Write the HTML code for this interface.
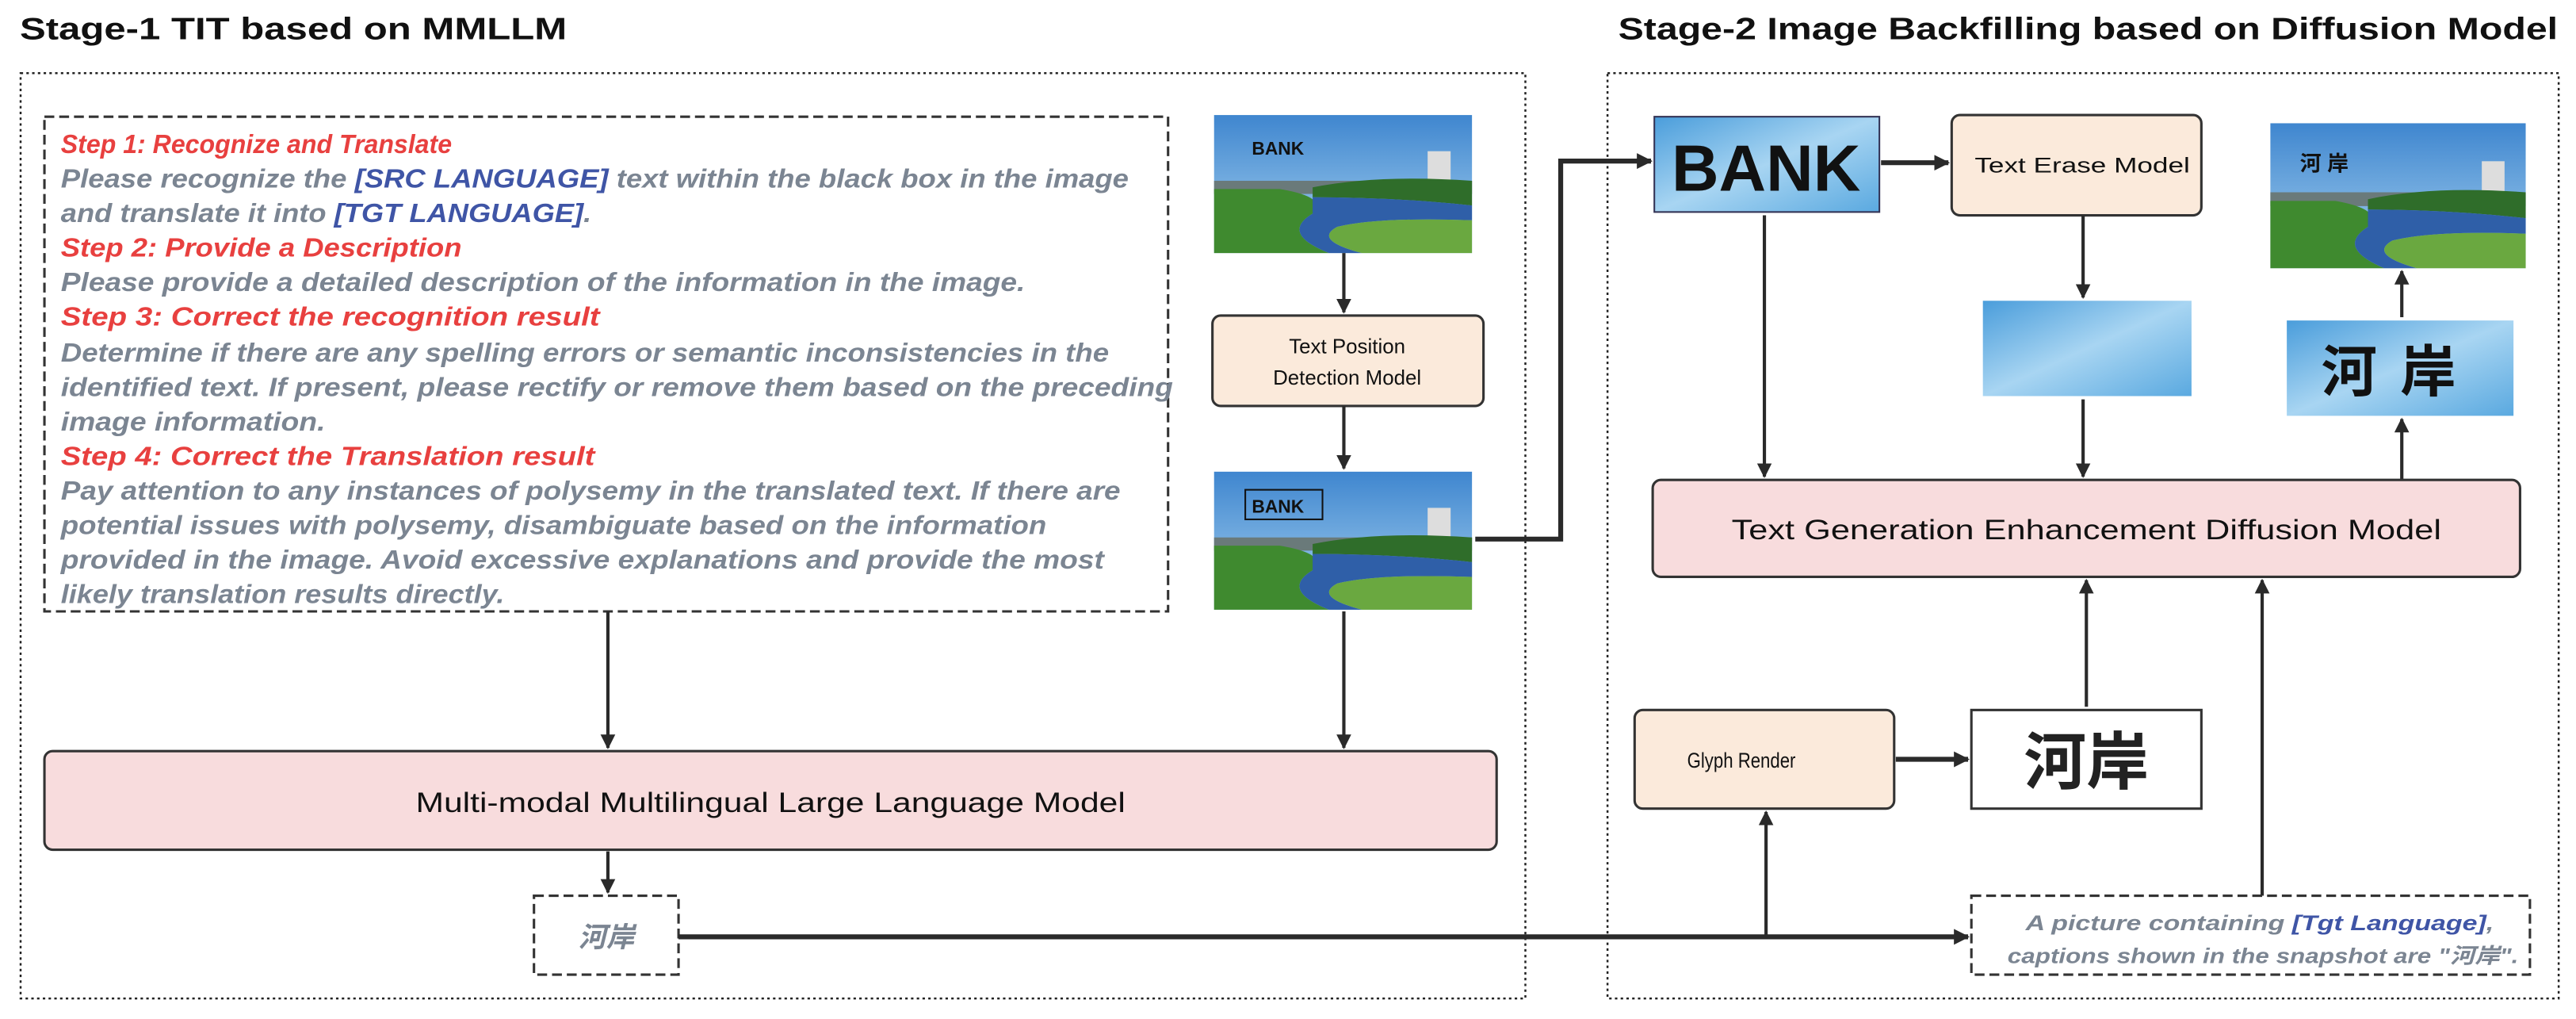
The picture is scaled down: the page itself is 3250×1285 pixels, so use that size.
<!DOCTYPE html>
<html><head><meta charset="utf-8"><style>html,body{margin:0;padding:0;background:#fff}svg{display:block}</style></head>
<body>
<svg width="3250" height="1285" viewBox="0 0 1568 620" xmlns="http://www.w3.org/2000/svg" font-family="'Liberation Sans','Noto Sans CJK SC',sans-serif">
<defs>
<marker id="ah" viewBox="0 0 10 10" refX="9" refY="5" markerWidth="4.5" markerHeight="4.5" orient="auto" markerUnits="strokeWidth"><path d="M0,0 L10,5 L0,10 z" fill="#2a2a2a"/></marker>
<marker id="ah2" viewBox="0 0 10 10" refX="9" refY="5" markerWidth="3.2" markerHeight="3.2" orient="auto" markerUnits="strokeWidth"><path d="M0,0 L10,5 L0,10 z" fill="#2a2a2a"/></marker>
<linearGradient id="sky" x1="0" y1="0" x2="0" y2="1"><stop offset="0" stop-color="#3f86cf"/><stop offset="1" stop-color="#a9d3f0"/></linearGradient>
<linearGradient id="cl" x1="0" y1="0" x2="1" y2="1"><stop offset="0" stop-color="#4a9ddb"/><stop offset="0.5" stop-color="#a8d5f2"/><stop offset="1" stop-color="#5aa9e0"/></linearGradient>
<g id="scene">
<rect width="157" height="84" fill="url(#sky)"/>
<rect x="130" y="22" width="14" height="22" fill="#ddd"/>
<rect x="0" y="40" width="157" height="8" fill="#6a7a7a"/>
<path d="M60,44 Q100,36 157,40 L157,55 Q110,50 60,50 z" fill="#2f6d2a"/>
<path d="M0,45 L40,45 Q70,50 60,60 Q40,72 70,84 L0,84 z" fill="#3f8a2f"/>
<path d="M60,50 Q110,50 157,55 L157,64 Q100,62 75,68 Q60,76 90,84 L70,84 Q40,72 60,60 z" fill="#2f5fa8"/>
<path d="M75,68 Q100,62 157,64 L157,84 L90,84 Q60,76 75,68 z" fill="#6aa840"/>
</g>
</defs>

<text x="12" y="24" font-size="19" font-weight="bold" fill="#111" textLength="333" lengthAdjust="spacingAndGlyphs">Stage-1 TIT based on MMLLM</text>
<text x="985" y="24" font-size="19" font-weight="bold" fill="#111" textLength="572" lengthAdjust="spacingAndGlyphs">Stage-2 Image Backfilling based on Diffusion Model</text>

<rect x="12.5" y="44.5" width="916" height="563" fill="none" stroke="#222" stroke-width="1.2" stroke-dasharray="1.5,2"/>
<rect x="978.5" y="44.5" width="579" height="563" fill="none" stroke="#222" stroke-width="1.2" stroke-dasharray="1.5,2"/>

<!-- prompt -->
<rect x="27" y="71" width="684" height="301" fill="none" stroke="#333" stroke-width="1.5" stroke-dasharray="6,3"/>
<g font-size="16" font-style="italic" font-weight="bold" fill="#7b8592" lengthAdjust="spacingAndGlyphs">
<text x="37" y="93" fill="#e8403f" textLength="238" lengthAdjust="spacingAndGlyphs">Step 1: Recognize and Translate</text>
<text x="37" y="114" textLength="650" lengthAdjust="spacingAndGlyphs">Please recognize the <tspan fill="#3f55a6">[SRC LANGUAGE]</tspan> text within the black box in the image</text>
<text x="37" y="135" textLength="323" lengthAdjust="spacingAndGlyphs">and translate it into <tspan fill="#3f55a6">[TGT LANGUAGE]</tspan>.</text>
<text x="37" y="156" fill="#e8403f" textLength="244" lengthAdjust="spacingAndGlyphs">Step 2: Provide a Description</text>
<text x="37" y="177" textLength="587" lengthAdjust="spacingAndGlyphs">Please provide a detailed description of the information in the image.</text>
<text x="37" y="198" fill="#e8403f" textLength="328" lengthAdjust="spacingAndGlyphs">Step 3: Correct the recognition result</text>
<text x="37" y="220" textLength="638" lengthAdjust="spacingAndGlyphs">Determine if there are any spelling errors or semantic inconsistencies in the</text>
<text x="37" y="241" textLength="677" lengthAdjust="spacingAndGlyphs">identified text. If present, please rectify or remove them based on the preceding</text>
<text x="37" y="262" textLength="161" lengthAdjust="spacingAndGlyphs">image information.</text>
<text x="37" y="283" fill="#e8403f" textLength="325" lengthAdjust="spacingAndGlyphs">Step 4: Correct the Translation result</text>
<text x="37" y="304" textLength="645" lengthAdjust="spacingAndGlyphs">Pay attention to any instances of polysemy in the translated text. If there are</text>
<text x="37" y="325" textLength="600" lengthAdjust="spacingAndGlyphs">potential issues with polysemy, disambiguate based on the information</text>
<text x="37" y="346" textLength="635" lengthAdjust="spacingAndGlyphs">provided in the image. Avoid excessive explanations and  provide the most</text>
<text x="37" y="367" textLength="270" lengthAdjust="spacingAndGlyphs">likely translation results directly.</text>
</g>

<!-- left images -->
<use href="#scene" x="739" y="70"/>
<text x="762" y="94" font-size="11" font-weight="bold" fill="#111">BANK</text>
<line x1="818" y1="154" x2="818" y2="190" stroke="#2a2a2a" stroke-width="2" marker-end="url(#ah)"/>
<rect x="738" y="192" width="165" height="55" rx="5" fill="#fbeadb" stroke="#333" stroke-width="1.5"/>
<text x="820" y="215" font-size="12.5" text-anchor="middle" fill="#111">Text Position</text>
<text x="820" y="234" font-size="12.5" text-anchor="middle" fill="#111">Detection Model</text>
<line x1="818" y1="247" x2="818" y2="285" stroke="#2a2a2a" stroke-width="2" marker-end="url(#ah)"/>
<use href="#scene" x="739" y="287"/>
<rect x="758" y="298" width="47" height="18" fill="none" stroke="#111" stroke-width="1"/>
<text x="762" y="312" font-size="11" font-weight="bold" fill="#111">BANK</text>

<line x1="370" y1="372" x2="370" y2="455" stroke="#2a2a2a" stroke-width="2" marker-end="url(#ah)"/>
<line x1="818" y1="372" x2="818" y2="455" stroke="#2a2a2a" stroke-width="2" marker-end="url(#ah)"/>

<rect x="27" y="457" width="884" height="60" rx="5" fill="#f8dcdd" stroke="#333" stroke-width="1.5"/>
<text x="253" y="494" font-size="17" fill="#111" textLength="432" lengthAdjust="spacingAndGlyphs">Multi-modal Multilingual Large Language Model</text>

<line x1="370" y1="518" x2="370" y2="543" stroke="#2a2a2a" stroke-width="2" marker-end="url(#ah)"/>
<rect x="325" y="545" width="88" height="48" fill="none" stroke="#333" stroke-width="1.5" stroke-dasharray="6,3"/>
<text x="369" y="576" font-size="17" font-style="italic" font-weight="bold" text-anchor="middle" fill="#7b8592">河岸</text>

<line x1="413" y1="570" x2="1198" y2="570" stroke="#2a2a2a" stroke-width="3" marker-end="url(#ah2)"/>
<line x1="1075" y1="570" x2="1075" y2="494" stroke="#2a2a2a" stroke-width="2" marker-end="url(#ah)"/>

<rect x="1200" y="545" width="340" height="48" fill="none" stroke="#333" stroke-width="1.5" stroke-dasharray="6,3"/>
<g font-size="13" font-style="italic" font-weight="bold" fill="#7b8592">
<text x="1233" y="566" textLength="285" lengthAdjust="spacingAndGlyphs">A picture containing <tspan fill="#3f55a6">[Tgt Language]</tspan>,</text>
<text x="1222" y="586" textLength="311" lengthAdjust="spacingAndGlyphs">captions shown in the snapshot are "河岸".</text>
</g>

<!-- connector image2 to BANK -->
<polyline points="898,328 950,328 950,98 1005,98" fill="none" stroke="#2a2a2a" stroke-width="3" marker-end="url(#ah2)"/>

<!-- right -->
<rect x="1007" y="71" width="137" height="58" fill="url(#cl)" stroke="#335" stroke-width="1"/>
<text x="1075" y="116" font-size="40" font-weight="bold" text-anchor="middle" fill="#111" textLength="115" lengthAdjust="spacingAndGlyphs">BANK</text>
<line x1="1145" y1="99" x2="1186" y2="99" stroke="#2a2a2a" stroke-width="3" marker-end="url(#ah2)"/>
<rect x="1188" y="70" width="152" height="61" rx="5" fill="#fbeadb" stroke="#333" stroke-width="1.5"/>
<text x="1202" y="105" font-size="13" fill="#111" textLength="131" lengthAdjust="spacingAndGlyphs">Text Erase Model</text>
<line x1="1074" y1="131" x2="1074" y2="290" stroke="#2a2a2a" stroke-width="2" marker-end="url(#ah)"/>
<line x1="1268" y1="131" x2="1268" y2="181" stroke="#2a2a2a" stroke-width="2" marker-end="url(#ah)"/>
<rect x="1207" y="183" width="127" height="58" fill="url(#cl)"/>
<line x1="1268" y1="243" x2="1268" y2="290" stroke="#2a2a2a" stroke-width="2" marker-end="url(#ah)"/>

<use href="#scene" x="1382" y="75" transform="translate(1382,75) scale(0.99,1.05) translate(-1382,-75)"/>
<text x="1400" y="104" font-size="13" font-weight="bold" fill="#111">河 岸</text>
<rect x="1392" y="195" width="138" height="58" fill="url(#cl)"/>
<text x="1461" y="238" font-size="34" font-weight="bold" text-anchor="middle" fill="#111" letter-spacing="14">河岸</text>
<line x1="1462" y1="193" x2="1462" y2="165" stroke="#2a2a2a" stroke-width="2" marker-end="url(#ah)"/>
<line x1="1462" y1="292" x2="1462" y2="255" stroke="#2a2a2a" stroke-width="2" marker-end="url(#ah)"/>

<rect x="1006" y="292" width="528" height="59" rx="5" fill="#f8dcdd" stroke="#333" stroke-width="1.5"/>
<text x="1054" y="328" font-size="17" fill="#111" textLength="432" lengthAdjust="spacingAndGlyphs">Text Generation Enhancement Diffusion Model</text>

<line x1="1270" y1="430" x2="1270" y2="353" stroke="#2a2a2a" stroke-width="2" marker-end="url(#ah)"/>
<line x1="1377" y1="545" x2="1377" y2="353" stroke="#2a2a2a" stroke-width="2" marker-end="url(#ah)"/>

<rect x="995" y="432" width="158" height="60" rx="5" fill="#fbeadb" stroke="#333" stroke-width="1.5"/>
<text x="1027" y="467" font-size="13" fill="#111" textLength="66" lengthAdjust="spacingAndGlyphs">Glyph Render</text>
<line x1="1154" y1="462" x2="1198" y2="462" stroke="#2a2a2a" stroke-width="3" marker-end="url(#ah2)"/>
<rect x="1200" y="432" width="140" height="60" fill="#fff" stroke="#333" stroke-width="1.5"/>
<text x="1270" y="477" font-size="38" font-weight="bold" text-anchor="middle" fill="#222">河岸</text>
</svg>
</body></html>
